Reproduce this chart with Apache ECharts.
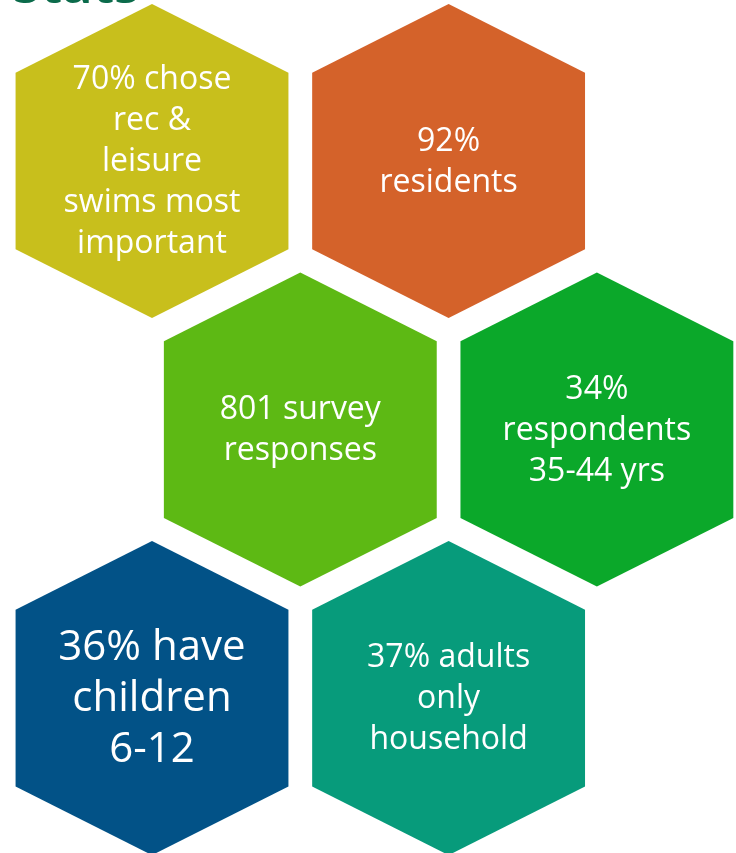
<!DOCTYPE html>
<html>
<head>
<meta charset="utf-8">
<script src="https://cdn.jsdelivr.net/npm/echarts@6/dist/echarts.min.js"></script>
<style>
  html, body { margin: 0; padding: 0; background: #ffffff; }
  #chart { width: 736px; height: 853px; }
</style>
</head>
<body>
<div id="chart"></div>
<script>
// ---- data ----
const labels = [
  '70% chose\nrec &\nleisure\nswims most\nimportant',
  '92%\nresidents',
  '801 survey\nresponses',
  '34%\nrespondents\n35-44 yrs',
  '36% have\nchildren\n6-12',
  '37% adults\nonly\nhousehold'
];
const cols = [0, 2, 1, 3, 0, 2];
const rows = [0, 0, 1, 1, 2, 2];
const headline = 'Stats';

// ---- styles (kept separate from data) ----
const palette = ['#C8BF1C', '#D4622A', '#5DB914', '#0BA82A', '#025287', '#079B7B'];
const bigText = [false, false, false, false, true, false];

const chart = echarts.init(document.getElementById('chart'), null, { renderer: 'canvas' });

const seriesData = labels.map((t, i) => [cols[i], rows[i], i]);

chart.setOption({
  animation: false,
  backgroundColor: '#ffffff',
  grid: { left: 0, right: 0, top: 0, bottom: 0 },
  xAxis: { type: 'value', min: -1.025, max: 3.938, show: false },
  yAxis: { type: 'value', min: -0.5996, max: 2.577, inverse: true, show: false },
  graphic: [{
    type: 'text',
    silent: true,
    style: {
      x: 13, y: -11,
      text: headline,
      fill: '#0B6B4B',
      font: 'bold 50px "Open Sans"',
      verticalAlign: 'middle'
    }
  }],
  series: [{
    type: 'custom',
    coordinateSystem: 'cartesian2d',
    data: seriesData,
    clip: false,
    renderItem: function (params, api) {
      const c = api.coord([api.value(0), api.value(1)]);
      const s = api.size([1, 1]);
      const idx = params.dataIndex;
      const hw = 0.92 * s[0];
      const tp = 0.585 * s[1];
      const sh = 0.329 * s[1];
      const pts = [
        [c[0], c[1] - tp],
        [c[0] + hw, c[1] - sh],
        [c[0] + hw, c[1] + sh],
        [c[0], c[1] + tp],
        [c[0] - hw, c[1] + sh],
        [c[0] - hw, c[1] - sh]
      ];
      const big = bigText[idx];
      return {
        type: 'group',
        children: [{
          type: 'polygon',
          shape: { points: pts },
          style: { fill: palette[idx], stroke: null }
        }, {
          type: 'text',
          style: {
            x: c[0],
            y: c[1] + 1,
            text: labels[idx],
            fill: '#ffffff',
            fontFamily: 'Open Sans',
            fontSize: big ? 42 : 32,
            lineHeight: big ? 51 : 41,
            align: 'center',
            verticalAlign: 'middle'
          }
        }]
      };
    }
  }]
});
</script>
</body>
</html>
